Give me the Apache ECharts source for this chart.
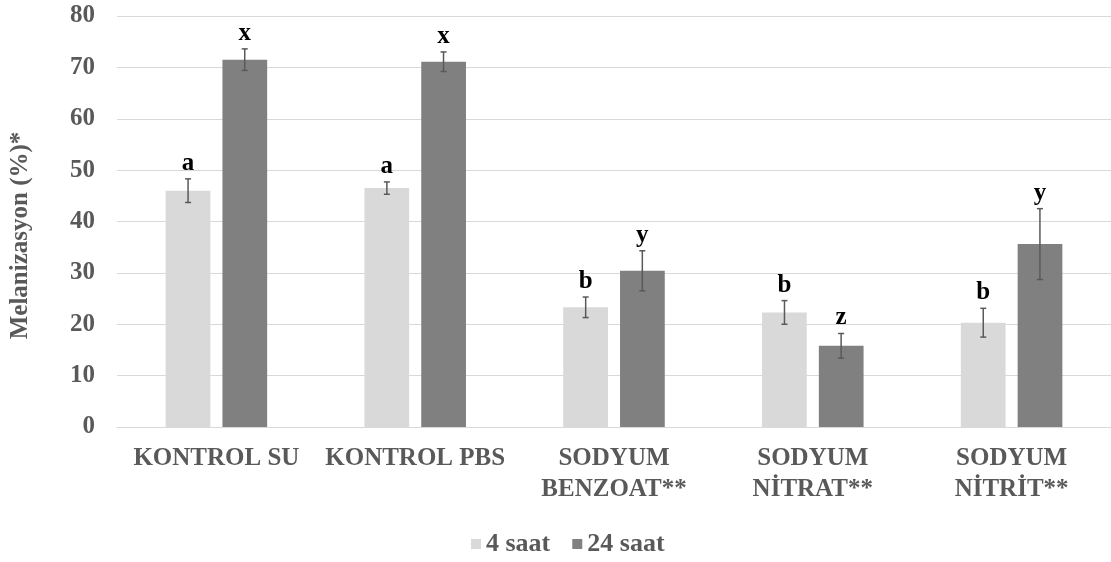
<!DOCTYPE html>
<html>
<head>
<meta charset="utf-8">
<script src="https://cdn.jsdelivr.net/npm/echarts@6/dist/echarts.min.js"></script>
<style>html,body{margin:0;padding:0;background:#fff}#c{width:1111px;height:562px}</style>
</head>
<body>
<div id="c"></div>
<script>
const categories = ['KONTROL SU', 'KONTROL PBS', 'SODYUM\nBENZOAT**', 'SODYUM\nNİTRAT**', 'SODYUM\nNİTRİT**'];
const seriesNames = ['4 saat', '24 saat'];
const values4 = [46.0, 46.5, 23.3, 22.3, 20.3];
const values24 = [71.5, 71.1, 30.4, 15.8, 35.6];
const err4 = [2.3, 1.2, 2.0, 2.3, 2.8];
const err24 = [2.1, 1.9, 3.9, 2.4, 6.9];
const letters4 = ['a', 'a', 'b', 'b', 'b'];
const letters24 = ['x', 'x', 'y', 'z', 'y'];
const yTicks = [0, 10, 20, 30, 40, 50, 60, 70, 80];

const FONT = '"Liberation Serif", "Times New Roman", serif';
const GRAY = '#595959';

function errData(vals, errs, letters) {
  return vals.map((v, i) => [i, v, errs[i], letters[i]]);
}
function errRender(side) {
  return function (params, api) {
    const idx = api.value(0), v = api.value(1), e = api.value(2);
    const band = api.size([1, 0])[0];
    const off = side * band * 0.1425;
    const c = api.coord([idx, v]);
    const x = c[0] + off;
    const yT = api.coord([idx, v + e])[1];
    const yB = api.coord([idx, v - e])[1];
    const cap = 3;
    const st = { stroke: GRAY, lineWidth: 1.5 };
    return {
      type: 'group',
      children: [
        { type: 'line', shape: { x1: x, y1: yT, x2: x, y2: yB }, style: st },
        { type: 'line', shape: { x1: x - cap, y1: yT, x2: x + cap, y2: yT }, style: st },
        { type: 'line', shape: { x1: x - cap, y1: yB, x2: x + cap, y2: yB }, style: st },
        { type: 'text', x: x, y: yT - 3, style: { text: api.value(3), fill: '#000', font: 'bold 25px ' + FONT, textAlign: 'center', textVerticalAlign: 'bottom' } }
      ]
    };
  };
}

const chart = echarts.init(document.getElementById('c'), null, { renderer: 'canvas' });
chart.setOption({
  animation: false,
  grid: { left: 116, right: 0, top: 16, bottom: 135 },
  legend: {
    data: seriesNames,
    bottom: 0,
    left: 466,
    itemWidth: 10, itemHeight: 10, itemGap: 22,
    icon: 'rect',
    textStyle: { fontFamily: FONT, fontWeight: 'bold', fontSize: 26, color: GRAY }
  },
  xAxis: {
    type: 'category',
    data: categories,
    axisLine: { show: true, lineStyle: { color: '#d9d9d9' } },
    axisTick: { show: false },
    axisLabel: { interval: 0, margin: 16, lineHeight: 31, fontFamily: FONT, fontWeight: 'bold', fontSize: 25, color: GRAY }
  },
  yAxis: {
    type: 'value',
    min: yTicks[0], max: yTicks[yTicks.length - 1], interval: 10,
    name: 'Melanizasyon (%)*',
    nameLocation: 'middle',
    nameGap: 84,
    nameTextStyle: { fontFamily: FONT, fontWeight: 'bold', fontSize: 25, color: GRAY, padding: [0, 28, 0, 0] },
    axisLine: { show: false },
    axisTick: { show: false },
    splitLine: { lineStyle: { color: '#d9d9d9', width: 1 } },
    axisLabel: { margin: 22, fontFamily: FONT, fontWeight: 'bold', fontSize: 25, color: GRAY }
  },
  series: [
    { name: seriesNames[0], type: 'bar', data: values4, barWidth: '22.5%', barGap: '27%', itemStyle: { color: '#d9d9d9' } },
    { name: seriesNames[1], type: 'bar', data: values24, barWidth: '22.5%', barGap: '27%', itemStyle: { color: '#808080' } },
    { type: 'custom', renderItem: errRender(-1), data: errData(values4, err4, letters4), z: 10, silent: true, encode: { x: 0, y: 1 } },
    { type: 'custom', renderItem: errRender(1), data: errData(values24, err24, letters24), z: 10, silent: true, encode: { x: 0, y: 1 } }
  ]
});
</script>
</body>
</html>
